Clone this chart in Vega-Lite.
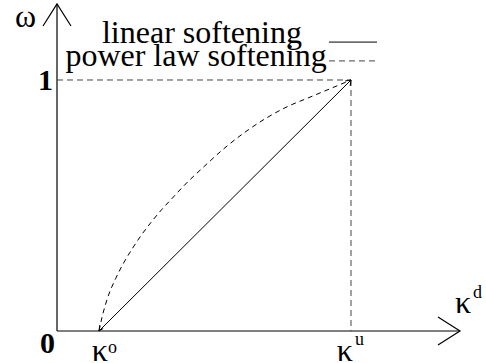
{
  "$schema": "https://vega.github.io/schema/vega-lite/v6.json",
  "width": 486,
  "height": 363,
  "padding": 0,
  "autosize": {"type": "none"},
  "background": "white",
  "config": {"view": {"stroke": null}, "text": {"font": "Liberation Serif", "color": "black"}},
  "datasets": {
    "frame": [
      {"part": "yaxis", "ord": 1, "x": 0, "y": 0},
      {"part": "yaxis", "ord": 2, "x": 0, "y": 1.303},
      {"part": "yhead", "ord": 1, "x": -0.333, "y": 1.215},
      {"part": "yhead", "ord": 2, "x": 0, "y": 1.303},
      {"part": "yhead", "ord": 3, "x": 0.333, "y": 1.215},
      {"part": "xaxis", "ord": 1, "x": 0, "y": 0},
      {"part": "xaxis", "ord": 2, "x": 9.595, "y": 0},
      {"part": "xhead", "ord": 1, "x": 9.071, "y": 0.0558},
      {"part": "xhead", "ord": 2, "x": 9.595, "y": 0},
      {"part": "xhead", "ord": 3, "x": 9.071, "y": -0.0558}
    ],
    "guides": [
      {"part": "level", "ord": 1, "x": 0, "y": 1},
      {"part": "level", "ord": 2, "x": 7, "y": 1},
      {"part": "limit", "ord": 1, "x": 7, "y": 1},
      {"part": "limit", "ord": 2, "x": 7, "y": 0},
      {"part": "keyPower", "ord": 1, "x": 6.476, "y": 1.076},
      {"part": "keyPower", "ord": 2, "x": 7.619, "y": 1.076}
    ],
    "linear": [
      {"part": "line", "ord": 1, "x": 1, "y": 0},
      {"part": "line", "ord": 2, "x": 7, "y": 1},
      {"part": "headTop", "ord": 1, "x": 6.86, "y": 0.996},
      {"part": "headTop", "ord": 2, "x": 7, "y": 1},
      {"part": "headTop", "ord": 3, "x": 6.98, "y": 0.976},
      {"part": "headLow", "ord": 1, "x": 1.02, "y": 0.024},
      {"part": "headLow", "ord": 2, "x": 1, "y": 0},
      {"part": "headLow", "ord": 3, "x": 1.1, "y": 0.01},
      {"part": "keyLinear", "ord": 1, "x": 6.476, "y": 1.151},
      {"part": "keyLinear", "ord": 2, "x": 7.619, "y": 1.151}
    ],
    "power": [
      {"x": 1, "y": 0},
      {"x": 1.08, "y": 0.06},
      {"x": 1.2, "y": 0.13},
      {"x": 1.4, "y": 0.21},
      {"x": 1.6, "y": 0.275},
      {"x": 1.8, "y": 0.33},
      {"x": 2.0, "y": 0.38},
      {"x": 2.25, "y": 0.435},
      {"x": 2.5, "y": 0.485},
      {"x": 2.75, "y": 0.53},
      {"x": 3.0, "y": 0.575},
      {"x": 3.5, "y": 0.655},
      {"x": 4.0, "y": 0.73},
      {"x": 4.5, "y": 0.795},
      {"x": 5.0, "y": 0.85},
      {"x": 5.5, "y": 0.895},
      {"x": 6.0, "y": 0.93},
      {"x": 6.5, "y": 0.965},
      {"x": 7, "y": 1}
    ],
    "labels": [
      {"label": "linear softening", "x": 1.07, "y": 1.147},
      {"label": "power law softening", "x": 0.2, "y": 1.056},
      {"label": "ω", "x": -1.0, "y": 1.211},
      {"label": "κ", "x": 0.826, "y": -0.1195},
      {"label": "κ", "x": 6.66, "y": -0.1195},
      {"label": "κ", "x": 9.476, "y": 0.0717}
    ],
    "supers": [
      {"label": "o", "x": 1.214, "y": -0.0876},
      {"label": "u", "x": 7.095, "y": -0.0558},
      {"label": "d", "x": 9.905, "y": 0.1315}
    ],
    "ticks": [
      {"label": "1", "x": -0.452, "y": 0.96},
      {"label": "0", "x": -0.405, "y": -0.0876}
    ]
  },
  "encoding": {
    "x": {"field": "x", "type": "quantitative", "axis": null,
          "scale": {"domain": [-1.357, 10.214], "nice": false, "zero": false}},
    "y": {"field": "y", "type": "quantitative", "axis": null,
          "scale": {"domain": [-0.1275, 1.3187], "nice": false, "zero": false}}
  },
  "layer": [
    {
      "data": {"name": "frame"},
      "mark": {"type": "line", "color": "black", "strokeWidth": 1.2},
      "encoding": {"detail": {"field": "part"}, "order": {"field": "ord"}}
    },
    {
      "data": {"name": "guides"},
      "mark": {"type": "line", "color": "#444", "strokeWidth": 1, "strokeDash": [6, 4]},
      "encoding": {"detail": {"field": "part"}, "order": {"field": "ord"}}
    },
    {
      "data": {"name": "linear"},
      "mark": {"type": "line", "color": "black", "strokeWidth": 1},
      "encoding": {"detail": {"field": "part"}, "order": {"field": "ord"}}
    },
    {
      "data": {"name": "power"},
      "mark": {"type": "line", "color": "black", "strokeWidth": 1, "strokeDash": [5, 4], "interpolate": "monotone"},
      "encoding": {}
    },
    {
      "data": {"name": "labels"},
      "mark": {"type": "text", "fontSize": 32, "align": "left", "baseline": "alphabetic"},
      "encoding": {"text": {"field": "label"}}
    },
    {
      "data": {"name": "supers"},
      "mark": {"type": "text", "fontSize": 18, "align": "left", "baseline": "alphabetic"},
      "encoding": {"text": {"field": "label"}}
    },
    {
      "data": {"name": "ticks"},
      "mark": {"type": "text", "fontSize": 30, "fontWeight": "bold", "align": "left", "baseline": "alphabetic"},
      "encoding": {"text": {"field": "label"}}
    }
  ]
}
